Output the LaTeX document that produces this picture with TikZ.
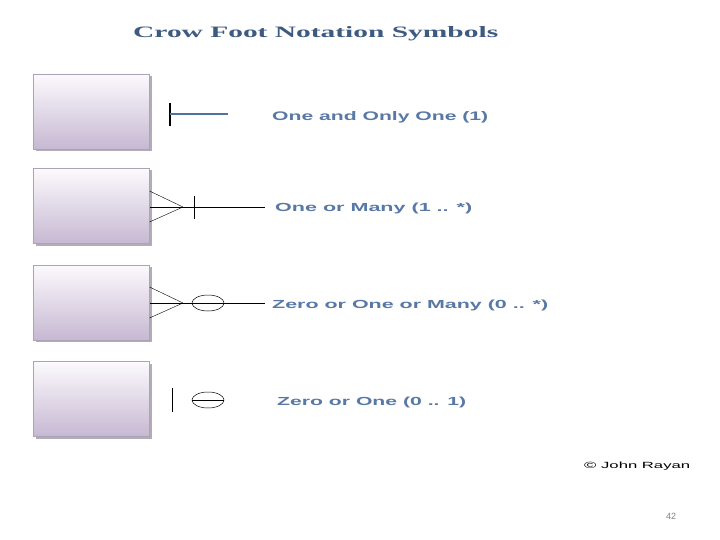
\documentclass[tikz,border=0pt]{standalone}
\usepackage{fontspec}
\setmainfont{Liberation Sans}
\newfontfamily\titlefont{Liberation Serif}
\usepackage{graphicx}
\definecolor{titleblue}{RGB}{61,90,128}
\definecolor{labelblue}{RGB}{88,120,166}
\definecolor{lineblue}{RGB}{79,115,160}
\definecolor{boxtop}{RGB}{252,250,253}
\definecolor{boxbot}{RGB}{198,184,210}
\definecolor{boxedge}{RGB}{172,164,182}
\definecolor{shadowgray}{RGB}{178,172,184}
\begin{document}
\begin{tikzpicture}[x=1pt,y=-1pt,
  entbox/.style={draw=boxedge, line width=0.5pt, top color=boxtop, bottom color=boxbot,
    minimum width=116pt, minimum height=75pt, inner sep=0pt},
  shadowbox/.style={fill=shadowgray, draw=none, minimum width=116pt, minimum height=75pt, inner sep=0pt},
  thinline/.style={line width=0.6pt, black},
  barline/.style={line width=1.2pt, black},
  lbl/.style={anchor=base west, inner sep=0pt, text=labelblue, font=\bfseries},
]
\useasboundingbox (0,0) rectangle (720,540);

% title
\node[anchor=base west, inner sep=0pt, text=titleblue] (title) at (133,38)
  {\resizebox{365pt}{11pt}{\titlefont\bfseries Crow Foot Notation Symbols}};

% entity boxes with shadows
\foreach \n/\y in {1/111.5, 2/206, 3/302.5, 4/399}{
  \node[shadowbox] (s\n) at (93.5,\y+2) {};
  \node[entbox] (e\n) at (91.5,\y) {};
}

% 1: one and only one
\coordinate (b1t) at (170,103);
\coordinate (b1b) at (170,126);
\coordinate (l1e) at (228,114);
\draw[barline] (b1t) -- (b1b);
\draw[line width=2.2pt, lineblue] (170,114) -- (l1e);

% 2: one or many
\coordinate (c2) at (183,207);
\coordinate (f2a) at (149.5,191);
\coordinate (f2b) at (149.5,222);
\coordinate (l2s) at (149.5,207);
\coordinate (l2e) at (265,207);
\draw[thinline] (l2s) -- (l2e);
\draw[thinline, line width=0.4pt] (f2a) -- (c2) -- (f2b);
\draw[thinline, line width=0.8pt] (194,196) -- (194,219);

% 3: zero or one or many
\coordinate (c3) at (183,303);
\coordinate (f3a) at (149.5,287);
\coordinate (f3b) at (149.5,318);
\coordinate (l3s) at (149.5,303);
\coordinate (l3e) at (265,303);
\draw[thinline] (l3s) -- (l3e);
\draw[thinline, line width=0.4pt] (f3a) -- (c3) -- (f3b);
\draw[thinline, line width=0.5pt] (208,303) ellipse [x radius=16, y radius=8];

% 4: zero or one
\draw[thinline, line width=0.8pt] (172,388) -- (172,412);
\draw[thinline, line width=0.5pt] (208,400) ellipse [x radius=16, y radius=8];
\draw[thinline, line width=0.5pt] (192,400) -- (224,400);

% labels
\node[lbl] (lab1) at (272,121) {\resizebox{216pt}{9pt}{One and Only One (1)}};
\node[lbl] (lab2) at (275,212) {\resizebox{197pt}{8.5pt}{One or Many (1 .. *)}};
\node[lbl] (lab3) at (272,308) {\resizebox{276pt}{8.5pt}{Zero or One or Many (0 .. *)}};
\node[lbl] (lab4) at (277,405) {\resizebox{189pt}{8.5pt}{Zero or One (0 .. 1)}};

\node[anchor=base west, inner sep=0pt, text=black] (copy) at (584,468)
  {\resizebox{106pt}{6.5pt}{© John Rayan}};
\node[anchor=base, inner sep=0pt, text=gray, font=\fontsize{9}{10}\selectfont] (pnum) at (671,519) {42};
\end{tikzpicture}
\end{document}
